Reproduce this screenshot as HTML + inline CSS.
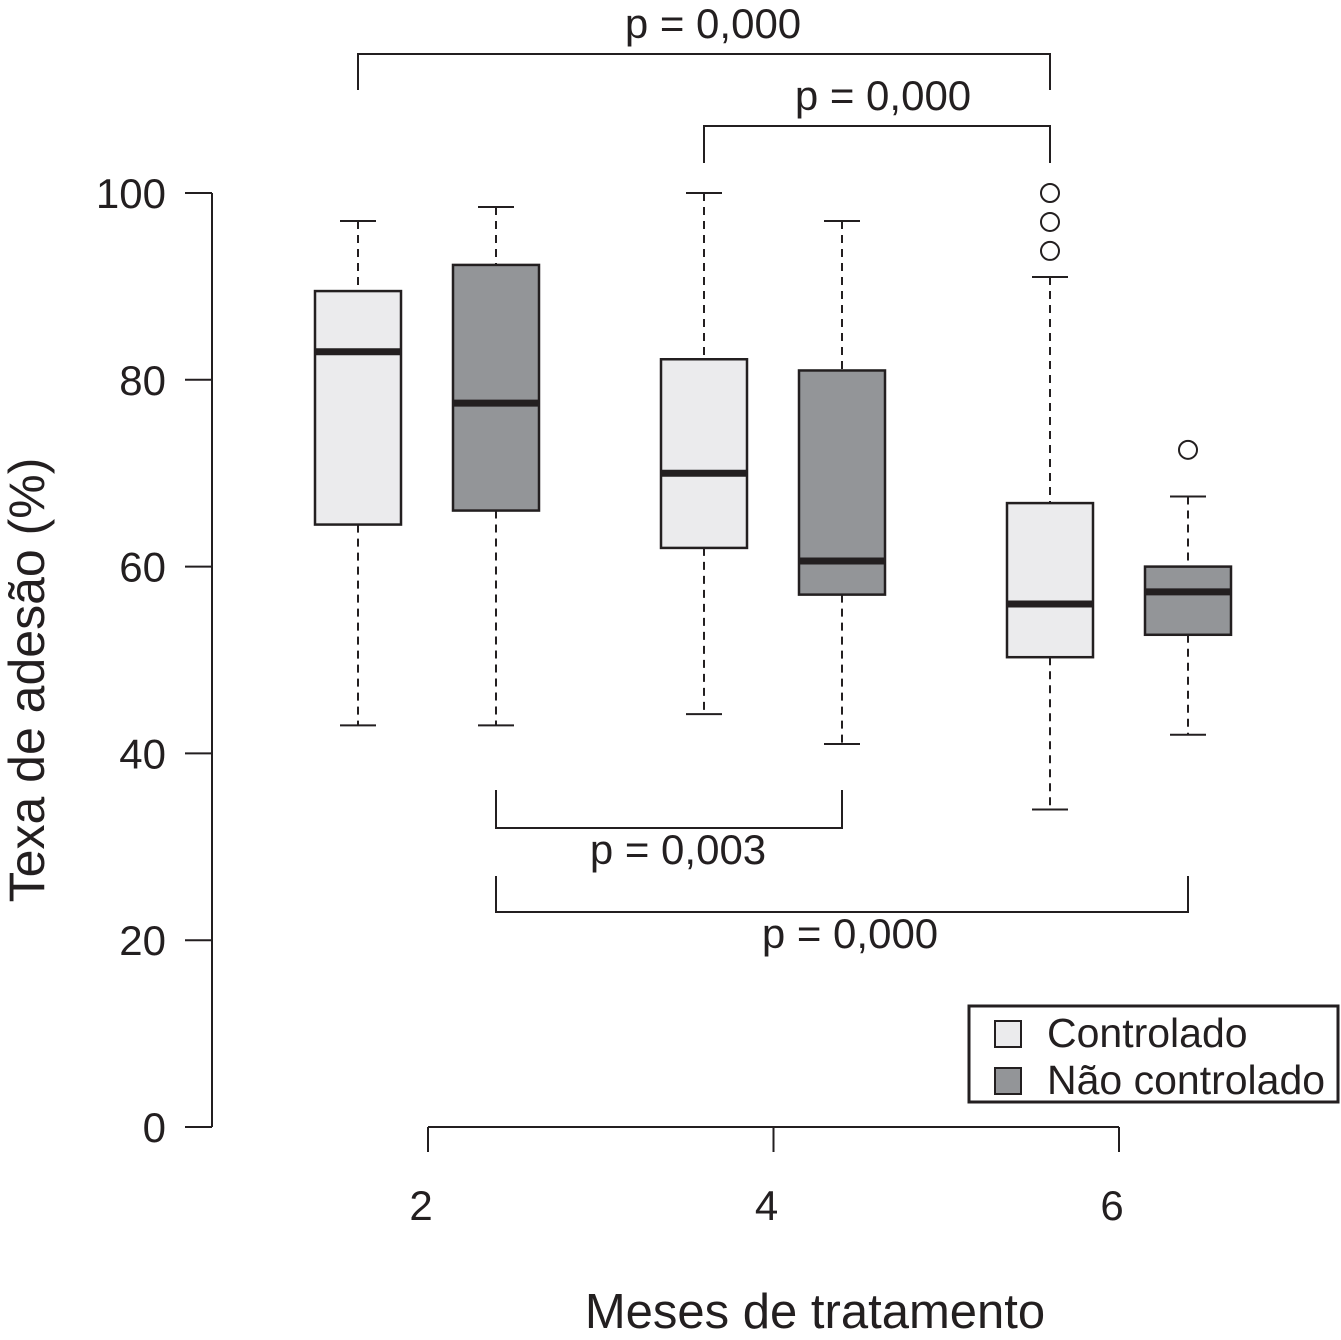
<!DOCTYPE html>
<html><head><meta charset="utf-8"><style>
body{margin:0;background:#fff}
svg{display:block;font-family:"Liberation Sans",sans-serif}
</style></head><body>
<svg id="chart" width="1341" height="1340" xmlns="http://www.w3.org/2000/svg">
<g id="g"></g>
</svg>
<script>
const categories=["2","4","6"];
const groups=["Controlado","Não controlado"];
const whiskerHigh=[97,98.5,100,97,91,67.5];
const q3=[89.5,92.3,82.2,81,66.8,60];
const medians=[83,77.5,70,60.6,56,57.3];
const q1=[64.5,66,62,57,50.3,52.7];
const whiskerLow=[43,43,44.2,41,34,42];
const outliers=[[],[],[],[],[100,96.9,93.8],[72.5]];
const yTicks=[0,20,40,60,80,100];
const pLabels=["p = 0,000","p = 0,000","p = 0,003","p = 0,000"];

const NS="http://www.w3.org/2000/svg";
const g=document.getElementById('g');
const y=v=>1127-v*9.34;
const boxX=i=>358+Math.floor(i/2)*346+(i%2)*138;
const catX=i=>428+i*345.5;
const fills=["#ebebed","#939598"];
function mk(t,a,p){const e=document.createElementNS(NS,t);for(const k in a)e.setAttribute(k,a[k]);(p||g).appendChild(e);return e;}
function line(x1,y1,x2,y2,w,dash){return mk('line',{x1,y1,x2,y2,stroke:'#231f20','stroke-width':w||2,'stroke-dasharray':dash||'none'});}

let e=line(212,y(0),212,y(100),2);


yTicks.forEach(v=>{
  line(185,y(v),212,y(v),2);
  const t=mk('text',{x:166,y:y(v)+15,'text-anchor':'end','font-size':42,fill:'#231f20'});
  t.textContent=v;
  
  
});
e=line(catX(0),1127,catX(2),1127,2);


categories.forEach((c,i)=>{
  line(catX(i),1127,catX(i),1152,2);
  const t=mk('text',{x:catX(i)-7,y:1220,'text-anchor':'middle','font-size':42,fill:'#231f20'});
  t.textContent=c;
  
  
});
let t=mk('text',{x:815,y:1328,'text-anchor':'middle','font-size':49,fill:'#231f20'});
t.textContent="Meses de tratamento";


t=mk('text',{x:0,y:0,'text-anchor':'middle','font-size':50,fill:'#231f20',transform:'translate(44,680) rotate(-90)'});
t.textContent="Texa de adesão (%)";



medians.forEach((m,i)=>{
  const cx=boxX(i),hw=43;
  const bg=mk('g',{});
  
  
  const L=(a,b,c,d,w,dd)=>mk('line',{x1:a,y1:b,x2:c,y2:d,stroke:'#231f20','stroke-width':w,'stroke-dasharray':dd||'none'},bg);
  L(cx,y(whiskerHigh[i]),cx,y(q3[i]),2,'8,6');
  L(cx,y(q1[i]),cx,y(whiskerLow[i]),2,'8,6');
  L(cx-18,y(whiskerHigh[i]),cx+18,y(whiskerHigh[i]),2);
  L(cx-18,y(whiskerLow[i]),cx+18,y(whiskerLow[i]),2);
  mk('rect',{x:cx-hw,y:y(q3[i]),width:2*hw,height:y(q1[i])-y(q3[i]),fill:fills[i%2],stroke:'#231f20','stroke-width':2.5},bg);
  L(cx-hw,y(m),cx+hw,y(m),7);
  outliers[i].forEach(o=>mk('circle',{cx,cy:y(o),r:9,fill:'none',stroke:'#231f20','stroke-width':2},bg));
});

const brackets=[[0,4,54,90,713,38],[2,4,126,163,883,110],[1,3,828,790,678,864],[1,5,912,876,850,948]];
brackets.forEach((b,k)=>{
  const x1=boxX(b[0]),x2=boxX(b[1]);
  const bg=mk('g',{});
  
  
  mk('polyline',{points:`${x1},${b[3]} ${x1},${b[2]} ${x2},${b[2]} ${x2},${b[3]}`,fill:'none',stroke:'#231f20','stroke-width':2},bg);
  const tt=mk('text',{x:b[4],y:b[5],'text-anchor':'middle','font-size':42,fill:'#231f20'},bg);
  tt.textContent=pLabels[k];
});

const lg=mk('g',{});


mk('rect',{x:969,y:1006,width:369,height:96,fill:'#fff',stroke:'#231f20','stroke-width':3},lg);
groups.forEach((gname,i)=>{
  const yy=1021+i*47;
  mk('rect',{x:995,y:yy,width:26,height:26,fill:fills[i],stroke:'#231f20','stroke-width':2},lg);
  const tt=mk('text',{x:1047,y:yy+26,'font-size':41,fill:'#231f20'},lg);
  tt.textContent=gname;
  
  
});
</script>
</body></html>
